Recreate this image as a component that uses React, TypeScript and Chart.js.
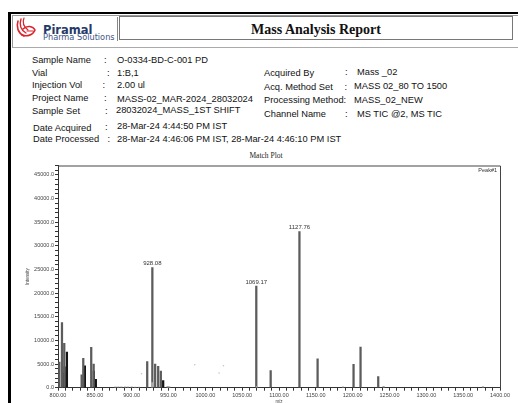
import React, { useEffect, useRef } from "react";
import { Chart, registerables } from "chart.js";

Chart.register(...registerables);

// ---- chart data (m/z vs intensity) ----
const mainMz = [801.8, 805.4, 808.5, 832.1, 834.3, 845.1, 848.4, 921.1, 928.08, 931.9, 936.0, 939.6, 1069.17, 1088.7, 1127.76, 1152.4, 1201.2, 1210.7, 1234.7];
const mainIntensity = [5400, 13800, 9400, 2700, 6200, 8550, 5000, 5500, 25400, 5000, 4500, 3500, 21500, 3600, 33000, 6100, 4950, 8600, 2330];

const overlayMz = [806.1, 806.8, 809.9, 834.3, 846.5, 849.2, 940.6];
const overlayIntensity = [3100, 4400, 7550, 4650, 3530, 1780, 1480];

const faintMz = [929.7, 880, 884, 888, 893, 897, 902, 907, 912, 950.9, 953, 1072, 1189, 1244, 1379];
const faintIntensity = [1060, 200, 200, 200, 200, 200, 200, 150, 150, 300, 250, 300, 200, 300, 250];

const noiseMz = [913.4, 985.7, 1018.7, 1024.6];
const noiseIntensity = [2960, 4870, 3100, 4650];

const labelledPeaks = ["928.08", "1069.17", "1127.76"];
const peakTag = "Peak#1";

const xMin = 800;
const xMax = 1400;
const yMax = 47000;

const toPoints = (xs: number[], ys: number[]) => xs.map((x, i) => ({ x, y: ys[i] }));

const SANS = '"Liberation Sans", Arial, sans-serif';

const annotationPlugin = {
  id: "annotations",
  afterDraw(chart: any) {
    const { ctx, chartArea, scales } = chart;
    ctx.save();
    // frame top + right
    ctx.strokeStyle = "#444";
    ctx.lineWidth = 1;
    ctx.beginPath();
    ctx.moveTo(chartArea.left, chartArea.top + 0.5);
    ctx.lineTo(chartArea.right + 0.5, chartArea.top + 0.5);
    ctx.lineTo(chartArea.right + 0.5, chartArea.bottom);
    ctx.stroke();
    // peak labels
    ctx.font = `6px ${SANS}`;
    ctx.fillStyle = "#333";
    ctx.textAlign = "center";
    ctx.textBaseline = "bottom";
    labelledPeaks.forEach((lbl) => {
      const mz = parseFloat(lbl);
      const idx = mainMz.indexOf(mz);
      if (idx < 0) return;
      const px = scales.x.getPixelForValue(mz);
      const py = scales.y.getPixelForValue(mainIntensity[idx]);
      ctx.fillText(lbl, px, py - 1);
    });
    ctx.font = `5.5px ${SANS}`;
    ctx.textAlign = "right";
    ctx.textBaseline = "middle";
    ctx.fillText(peakTag, chartArea.right - 3, chartArea.top + 5);
    ctx.restore();
  },
};

function MatchPlot() {
  const ref = useRef<HTMLCanvasElement | null>(null);
  useEffect(() => {
    if (!ref.current) return;
    const chart = new Chart(ref.current, {
      type: "bar",
      data: {
        datasets: [
          {
            label: "faint",
            data: toPoints(faintMz, faintIntensity),
            backgroundColor: "#a8a8a8",
            barThickness: 1.5,
          } as any,
          {
            label: "main",
            data: toPoints(mainMz, mainIntensity),
            backgroundColor: "#5c5c5c",
            barThickness: 1.6,
          } as any,
          {
            label: "overlay",
            data: toPoints(overlayMz, overlayIntensity),
            backgroundColor: "#151515",
            barThickness: 1.6,
          } as any,
          {
            type: "scatter",
            label: "noise",
            data: toPoints(noiseMz, noiseIntensity),
            backgroundColor: "#c4c4c4",
            borderWidth: 0,
            pointRadius: 0.8,
          } as any,
        ],
      },
      options: {
        animation: false,
        responsive: false,
        layout: { padding: { top: 5.5, right: 18, left: 0, bottom: 0 } },
        plugins: {
          legend: { display: false },
          tooltip: { enabled: false },
          title: { display: false },
        },
        scales: {
          x: {
            type: "linear",
            min: xMin,
            max: xMax,
            offset: false,
            grid: { drawOnChartArea: false, tickLength: 3, color: "#333", offset: false },
            border: { color: "#333", width: 1 },
            ticks: {
              stepSize: 10,
              autoSkip: false,
              maxRotation: 0,
              includeBounds: false,
              padding: 1,
              color: "#444",
              font: { size: 5.5, family: SANS },
              callback: (v: any) => (Math.round(Number(v)) % 50 === 0 ? Number(v).toFixed(2) : ""),
            },
            title: {
              display: true,
              text: "m/z",
              color: "#444",
              font: { size: 4.5, family: SANS },
              padding: { top: 0, bottom: 15.6 },
            },
            afterFit: (s: any) => {
              s.height = 32.3;
            },
          },
          y: {
            min: 0,
            max: yMax,
            grid: { drawOnChartArea: false, tickLength: 3, color: "#333" },
            border: { color: "#333", width: 1 },
            ticks: {
              stepSize: 1000,
              autoSkip: false,
              includeBounds: false,
              padding: 1,
              color: "#444",
              font: { size: 5.5, family: SANS },
              callback: (v: any) => (Math.round(Number(v)) % 5000 === 0 ? Number(v).toFixed(1) : ""),
            },
            title: {
              display: true,
              text: "Intensity",
              color: "#444",
              font: { size: 4.5, family: SANS },
              padding: { top: 25.3, bottom: 0 },
            },
            afterFit: (s: any) => {
              s.width = 58;
            },
          },
        },
      } as any,
      plugins: [annotationPlugin],
    });
    return () => chart.destroy();
  }, []);
  return <canvas ref={ref} width={518} height={260} style={{ display: "block" }} />;
}

function Txt(props: { x: number; y: number; size?: number; children: any; style?: any }) {
  const size = props.size ?? 9.3;
  return (
    <div
      style={{
        position: "absolute",
        left: props.x,
        top: props.y - size * 0.6,
        fontFamily: SANS,
        fontSize: size,
        lineHeight: `${size * 1.2}px`,
        whiteSpace: "nowrap",
        color: "#111",
        ...props.style,
      }}
    >
      {props.children}
    </div>
  );
}

function Logo() {
  return (
    <svg style={{ position: "absolute", left: 14, top: 16 }} width={24} height={24} viewBox="0 0 24 24">
      <g fill="none" stroke="#d9262e" strokeLinecap="round">
        <path d="M4 5 C 2 11, 4 17, 10 20" strokeWidth={1.6} />
        <path d="M7 3 C 5 9, 7 14, 12 17" strokeWidth={1.4} />
        <path d="M10 2 C 8 7, 10 11, 14 14" strokeWidth={1.2} />
        <path d="M9 13 C 13 9, 19 10, 21 14 C 19 19, 13 21, 8 19" strokeWidth={1.6} />
        <path d="M13 15 L 19 15" strokeWidth={1.2} />
      </g>
    </svg>
  );
}

export default function App() {
  return (
    <div
      style={{
        position: "absolute",
        left: 0,
        top: 0,
        width: 518,
        height: 403,
        overflow: "hidden",
        background: "#fff",
      }}
    >
      {/* outer page border */}
      <div
        style={{
          position: "absolute",
          left: 8,
          top: 11.5,
          width: 530,
          height: 420,
          borderTop: "2px solid #000",
          borderLeft: "3px solid #000",
        }}
      />
      {/* header box */}
      <div
        style={{
          position: "absolute",
          left: 12,
          top: 14.5,
          width: 530,
          height: 31,
          borderTop: "1px solid #999",
          borderLeft: "1px solid #999",
          borderBottom: "1.5px solid #aaa",
        }}
      />
      <div
        style={{
          position: "absolute",
          left: 117,
          top: 17,
          width: 1,
          height: 24,
          background: "#888",
        }}
      />
      <div
        style={{
          position: "absolute",
          left: 119,
          top: 16,
          width: 392,
          height: 22,
          border: "1.5px solid #777",
          textAlign: "center",
          fontFamily: '"Liberation Serif", "Times New Roman", serif',
          fontWeight: "bold",
          fontSize: 14,
          lineHeight: "25px",
          color: "#111",
        }}
      >
        Mass Analysis Report
      </div>
      <Logo />
      <Txt x={43} y={30.7} size={11.5} style={{ fontFamily: '"DejaVu Sans", sans-serif', fontWeight: "bold", color: "#253a69" }}>
        Piramal
      </Txt>
      <Txt x={43} y={38} size={8.2} style={{ fontFamily: '"DejaVu Sans", sans-serif', color: "#41548a" }}>
        Pharma Solutions
      </Txt>

      {/* sample info */}
      <Txt x={32} y={60.7}>Sample Name</Txt>
      <Txt x={104} y={60.7}>:</Txt>
      <Txt x={117} y={60.7}>O-0334-BD-C-001 PD</Txt>

      <Txt x={32} y={74}>Vial</Txt>
      <Txt x={107} y={74}>:</Txt>
      <Txt x={117} y={73.3}>1:B,1</Txt>

      <Txt x={32} y={85.7}>Injection Vol</Txt>
      <Txt x={102.5} y={85.7}>:</Txt>
      <Txt x={117} y={85.5}>2.00 ul</Txt>

      <Txt x={32} y={98.7}>Project Name</Txt>
      <Txt x={104} y={98.7}>:</Txt>
      <Txt x={117} y={99.7}>MASS-02_MAR-2024_28032024</Txt>

      <Txt x={32} y={112}>Sample Set</Txt>
      <Txt x={105} y={112}>:</Txt>
      <Txt x={116} y={110.7}>28032024_MASS_1ST SHIFT</Txt>

      <Txt x={33} y={128.3}>Date Acquired</Txt>
      <Txt x={105} y={127.5}>:</Txt>
      <Txt x={117} y={127}>28-Mar-24 4:44:50 PM IST</Txt>

      <Txt x={33} y={139.7}>Date Processed</Txt>
      <Txt x={107.5} y={139.7}>:</Txt>
      <Txt x={117} y={139.5}>28-Mar-24 4:46:06 PM IST, 28-Mar-24 4:46:10 PM IST</Txt>

      <Txt x={264} y={74}>Acquired By</Txt>
      <Txt x={345} y={72.7}>:</Txt>
      <Txt x={357} y={72.7}>Mass _02</Txt>

      <Txt x={264} y={87.3}>Acq. Method Set</Txt>
      <Txt x={344.5} y={87.3}>:</Txt>
      <Txt x={354} y={87}>MASS 02_80 TO 1500</Txt>

      <Txt x={264} y={100.3}>Processing Method:</Txt>
      <Txt x={354} y={100.3}>MASS_02_NEW</Txt>

      <Txt x={264} y={114.7}>Channel Name</Txt>
      <Txt x={345} y={114.7}>:</Txt>
      <Txt x={357} y={114.7}>MS TIC @2, MS TIC</Txt>

      <div
        style={{
          position: "absolute",
          left: 216,
          width: 100,
          top: 151,
          textAlign: "center",
          fontFamily: '"Liberation Serif", "Times New Roman", serif',
          fontSize: 7.5,
          lineHeight: "9px",
          color: "#222",
        }}
      >
        Match Plot
      </div>

      <div style={{ position: "absolute", left: 0, top: 160 }}>
        <MatchPlot />
      </div>
    </div>
  );
}
